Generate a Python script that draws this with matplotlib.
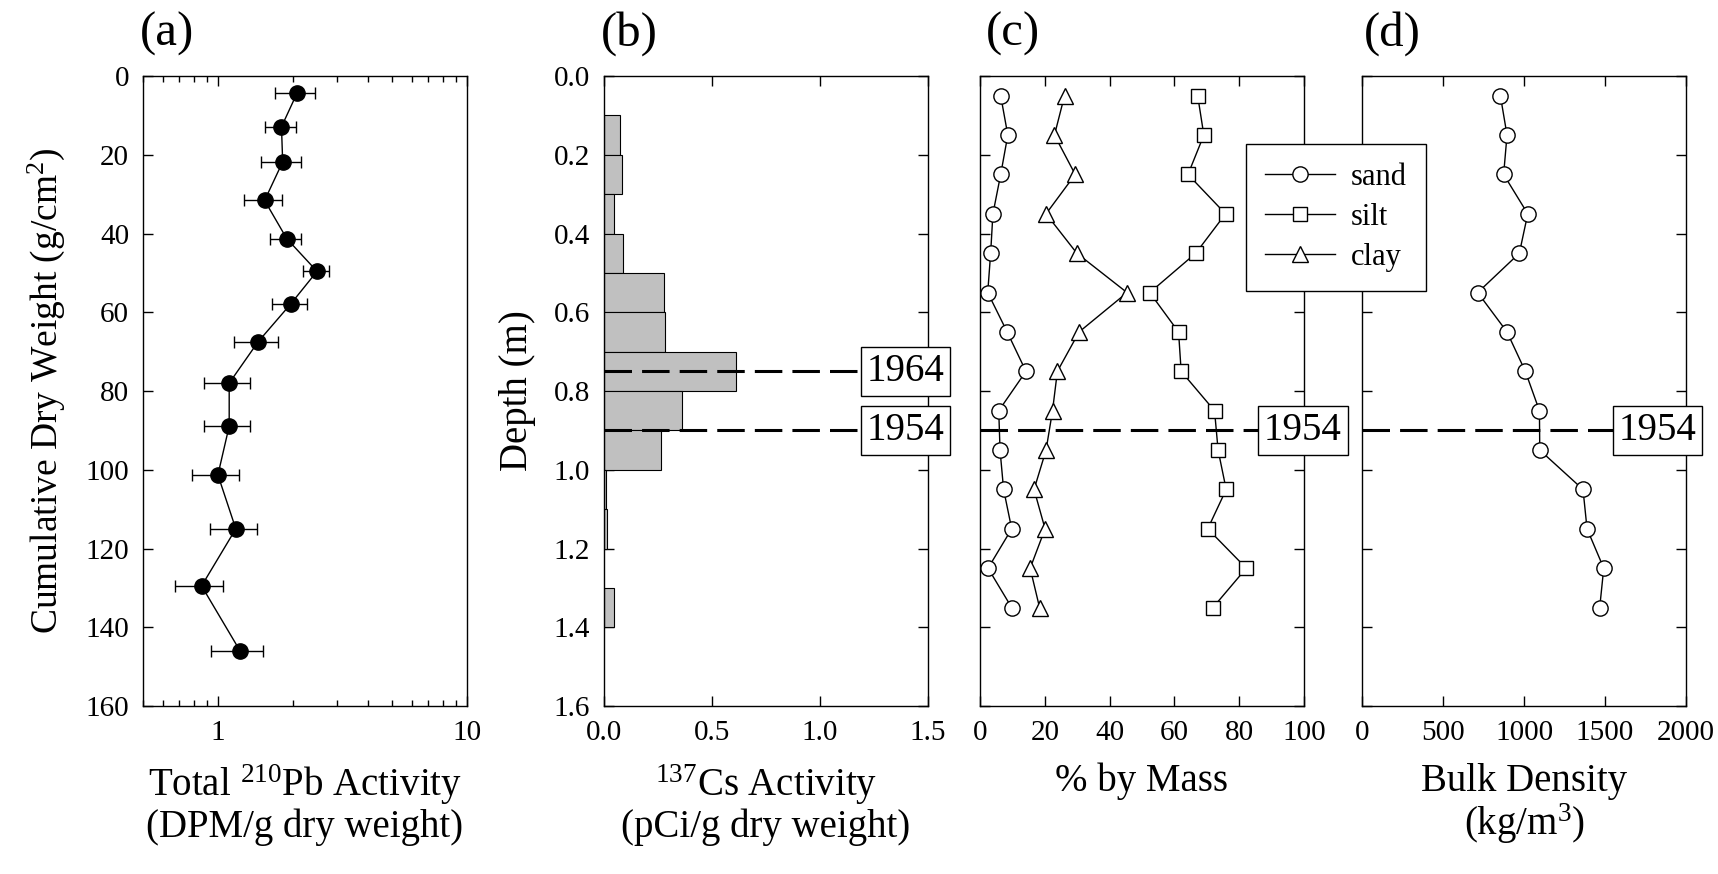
import numpy as np
import matplotlib
matplotlib.use('Agg')
import matplotlib.pyplot as plt
from matplotlib.ticker import LogLocator, NullFormatter, FuncFormatter, FixedLocator

plt.rcParams['font.family'] = 'serif'
plt.rcParams['font.serif'] = ['Liberation Serif', 'DejaVu Serif']
plt.rcParams['mathtext.fontset'] = 'custom'
plt.rcParams['mathtext.rm'] = 'Liberation Serif'
plt.rcParams['mathtext.it'] = 'Liberation Serif:italic'

# (a) total 210Pb vs cumulative dry weight
pb_weight = [4.3, 12.9, 21.8, 31.6, 41.3, 49.6, 57.9, 67.5, 78.0, 88.9, 101.3, 115.0, 129.5, 146.1]
pb_act = [2.08, 1.80, 1.82, 1.54, 1.89, 2.50, 1.96, 1.45, 1.11, 1.11, 1.00, 1.18, 0.86, 1.23]
pb_err = [0.38, 0.25, 0.33, 0.27, 0.27, 0.30, 0.31, 0.29, 0.23, 0.23, 0.21, 0.25, 0.19, 0.29]

# (b) 137Cs bins (shallow edge of bin, activity)
cs_top = [0.1, 0.2, 0.3, 0.4, 0.5, 0.6, 0.7, 0.8, 0.9, 1.0, 1.1, 1.3]
cs_act = [0.076, 0.082, 0.048, 0.088, 0.279, 0.284, 0.61, 0.363, 0.262, 0.009, 0.015, 0.045]

# (c) grain size and (d) bulk density
depth = [0.05, 0.15, 0.25, 0.35, 0.45, 0.55, 0.65, 0.75, 0.85, 0.95, 1.05, 1.15, 1.25, 1.35]
sand = [6.4, 8.6, 6.4, 4.0, 3.3, 2.4, 8.4, 14.2, 5.8, 6.2, 7.3, 9.8, 2.5, 9.8]
silt = [67.2, 69.1, 64.2, 75.8, 66.6, 52.4, 61.3, 62.1, 72.4, 73.5, 76.0, 70.3, 82.2, 71.9]
clay = [26.1, 23.0, 29.4, 20.4, 29.9, 45.4, 30.6, 23.9, 22.4, 20.4, 16.7, 20.1, 15.5, 18.4]
bulk = [854, 895, 874, 1023, 971, 714, 895, 1008, 1095, 1097, 1364, 1389, 1492, 1467]

year_depth = {'1964': 0.75, '1954': 0.90}

fig = plt.figure(figsize=(17.18, 8.74), dpi=100)
bot, hgt, wid = 0.1922, 0.7208, 0.1886
axa = fig.add_axes([0.0832, bot, wid, hgt])
axb = fig.add_axes([0.3516, bot, wid, hgt])
axc = fig.add_axes([0.5704, bot, wid, hgt])
axd = fig.add_axes([0.7928, bot, wid, hgt])

tick_fs = 21
lab_fs = 28

for ax in (axa, axb, axc, axd):
    for s in ax.spines.values():
        s.set_linewidth(1.0)
    ax.tick_params(which='both', direction='in', width=1.0, labelsize=tick_fs, pad=10)
    ax.tick_params(which='major', length=7)
    ax.tick_params(which='minor', length=4)

# --- (a)
axa.errorbar(pb_act, pb_weight, xerr=pb_err, fmt='-o', color='black', ms=11, lw=1.0,
             elinewidth=1.0, capsize=4, capthick=1.0)
axa.set_xscale('log')
axa.set_xlim(0.5, 10)
axa.set_ylim(160, 0)
axa.set_yticks(np.arange(0, 161, 20))
axa.xaxis.set_major_locator(FixedLocator([1, 10]))
axa.xaxis.set_major_formatter(FuncFormatter(lambda v, p: '%g' % v))
axa.xaxis.set_minor_locator(LogLocator(base=10, subs=np.arange(2, 10)))
axa.xaxis.set_minor_formatter(NullFormatter())
axa.tick_params(which='both', top=True, right=False)
axa.set_xlabel('Total $^{210}$Pb Activity\n(DPM/g dry weight)', fontsize=lab_fs, labelpad=12, linespacing=1.05)
axa.set_ylabel('Cumulative Dry Weight (g/cm$^2$)', fontsize=27, labelpad=13)

# --- (b)
axb.barh(np.array(cs_top) + 0.05, cs_act, height=0.1, color='#c0c0c0', edgecolor='black', lw=0.8, zorder=2)
axb.set_xlim(0, 1.5)
axb.set_ylim(1.6, 0)
axb.set_xticks([0, 0.5, 1.0, 1.5])
axb.set_xticklabels(['0.0', '0.5', '1.0', '1.5'])
axb.set_yticks(np.arange(0, 1.61, 0.2))
axb.set_yticklabels(['%.1f' % v for v in np.arange(0, 1.61, 0.2)])
axb.tick_params(top=True, right=True)
axb.set_xlabel('$^{137}$Cs Activity\n(pCi/g dry weight)', fontsize=lab_fs, labelpad=12, linespacing=1.05)
axb.set_ylabel('Depth (m)', fontsize=lab_fs, labelpad=13)

# --- (c)
mk = dict(color='black', lw=1.0, mfc='white', mec='black', mew=1.0)
axc.plot(sand, depth, marker='o', ms=11, label='sand', **mk)
axc.plot(silt, depth, marker='s', ms=10, label='silt', **mk)
axc.plot(clay, depth, marker='^', ms=11, label='clay', **mk)
axc.set_xlim(0, 100)
axc.set_ylim(1.6, 0)
axc.set_xticks(np.arange(0, 101, 20))
axc.set_yticks(np.arange(0, 1.61, 0.2))
axc.tick_params(top=True, right=True, labelleft=False)
axc.set_xlabel('% by Mass', fontsize=lab_fs, labelpad=12)
h, l = axc.get_legend_handles_labels()
leg = fig.legend(h, l, loc='upper left', bbox_to_anchor=(0.7253, 0.8352), borderaxespad=0, fontsize=22,
                 frameon=True, fancybox=False, edgecolor='black', framealpha=1,
                 handlelength=2.3, handletextpad=0.5, borderpad=0.62, labelspacing=0.36)
leg.get_frame().set_linewidth(1.0)

# --- (d)
axd.plot(bulk, depth, marker='o', ms=11, **mk)
axd.set_xlim(0, 2000)
axd.set_ylim(1.6, 0)
axd.set_xticks(np.arange(0, 2001, 500))
axd.set_yticks(np.arange(0, 1.61, 0.2))
axd.tick_params(top=True, right=True, labelleft=False)
axd.set_xlabel('Bulk Density\n(kg/m$^3$)', fontsize=lab_fs, labelpad=12, linespacing=1.05)

# date markers
def date_line(ax, year, xbox):
    yv = year_depth[year]
    tr = ax.get_yaxis_transform()
    ax.plot([0, xbox], [yv, yv], transform=tr, color='black', lw=2.2,
            ls=(0, (9, 3.3)), clip_on=False, zorder=3)
    ax.text(xbox, yv, year, transform=tr, ha='center', va='center', fontsize=28, zorder=6,
            bbox=dict(boxstyle='square,pad=0.15', fc='white', ec='black', lw=1.0))

date_line(axb, '1964', 0.93)
date_line(axb, '1954', 0.93)
date_line(axc, '1954', 0.997)
date_line(axd, '1954', 0.912)

# panel letters
for ax, lab, dx in ((axa, '(a)', -0.009), (axb, '(b)', -0.009), (axc, '(c)', 0.019), (axd, '(d)', 0.006)):
    ax.text(dx, 1.048, lab, transform=ax.transAxes, ha='left', va='baseline', fontsize=35)

fig.savefig('out.png', dpi=100)
